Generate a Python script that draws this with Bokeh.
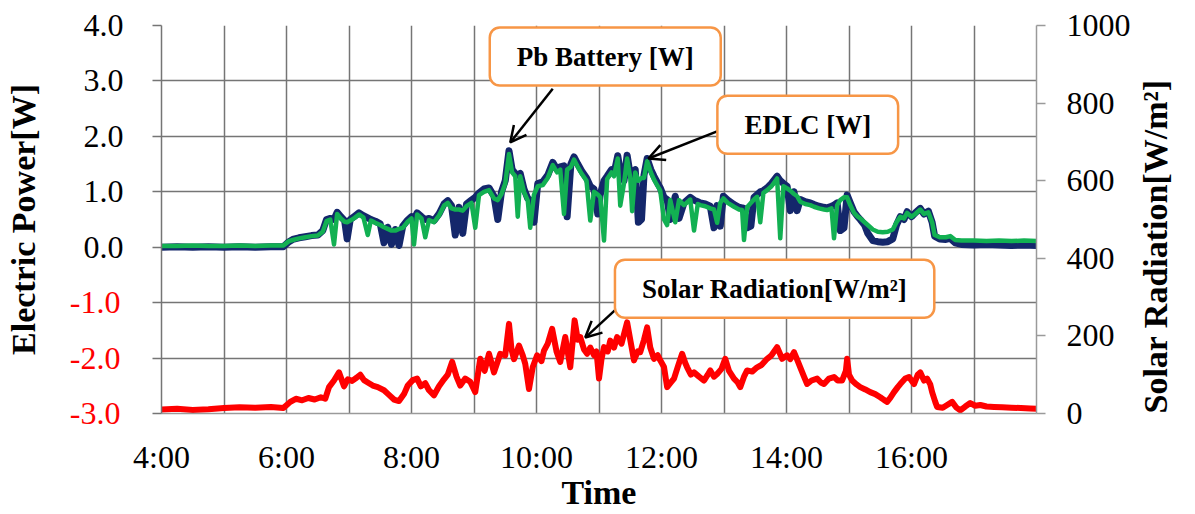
import math
from bokeh.plotting import figure
from bokeh.models import Range1d, LinearAxis, FixedTicker, Label, Arrow, OpenHead
from bokeh.embed import file_html
from bokeh.resources import INLINE

# ---------------- data ----------------
power_time = [4.00, 4.25, 4.50, 4.75, 5.00, 5.25, 5.50, 5.75, 5.95, 6.04, 6.10, 6.20, 6.30, 6.40, 6.50,
              6.58, 6.64, 6.70, 6.76, 6.81, 6.87, 6.93, 6.97, 7.02, 7.09, 7.16, 7.23, 7.30, 7.35, 7.42,
              7.50, 7.56, 7.62, 7.68, 7.74, 7.80, 7.86, 7.93, 8.00, 8.04, 8.09, 8.16, 8.22, 8.28, 8.36,
              8.44, 8.52, 8.58, 8.64, 8.70, 8.76, 8.82, 8.88, 8.96, 9.02, 9.08, 9.16, 9.24, 9.32, 9.38,
              9.44, 9.50, 9.56, 9.61, 9.66, 9.70, 9.74, 9.80, 9.86, 9.90, 9.96, 10.02, 10.10, 10.18, 10.26,
              10.33, 10.38, 10.44, 10.49, 10.55, 10.60, 10.66, 10.72, 10.80, 10.86, 10.92, 10.98, 11.02, 11.08, 11.13,
              11.20, 11.24, 11.30, 11.34, 11.40, 11.45, 11.50, 11.53, 11.58, 11.63, 11.68, 11.72, 11.77, 11.83, 11.88,
              11.94, 11.98, 12.04, 12.09, 12.14, 12.22, 12.28, 12.36, 12.46, 12.52, 12.58, 12.62, 12.70, 12.78, 12.84,
              12.89, 12.94, 12.99, 13.06, 13.16, 13.24, 13.29, 13.32, 13.37, 13.43, 13.48, 13.53, 13.58, 13.63, 13.69,
              13.76, 13.85, 13.90, 13.95, 14.01, 14.06, 14.12, 14.17, 14.22, 14.30, 14.38, 14.44, 14.52, 14.60, 14.65,
              14.72, 14.76, 14.81, 14.86, 14.92, 14.97, 15.02, 15.08, 15.14, 15.18, 15.25, 15.30, 15.38, 15.46, 15.54,
              15.62, 15.70, 15.76, 15.82, 15.88, 15.93, 16.00, 16.06, 16.14, 16.20, 16.27, 16.33, 16.37, 16.45, 16.55,
              16.62, 16.70, 16.80, 17.00, 17.20, 17.40, 17.60, 17.80, 18.00]
battery_w = [0.00, 0.01, 0.00, 0.01, 0.00, 0.01, 0.00, 0.01, 0.01, 0.10, 0.14, 0.17, 0.19, 0.21, 0.22,
             0.30, 0.50, 0.52, 0.50, 0.63, 0.55, 0.48, 0.15, 0.50, 0.56, 0.62, 0.57, 0.53, 0.50, 0.47,
             0.42, 0.08, 0.36, 0.05, 0.32, 0.03, 0.38, 0.48, 0.55, 0.50, 0.62, 0.55, 0.50, 0.52, 0.48,
             0.60, 0.78, 0.84, 0.75, 0.22, 0.72, 0.25, 0.78, 0.85, 0.90, 0.98, 1.05, 1.07, 0.92, 0.50,
             1.00, 1.20, 1.74, 1.40, 1.33, 1.30, 1.33, 1.05, 0.88, 0.85, 0.45, 1.15, 1.18, 1.30, 1.53,
             1.40, 1.45, 1.47, 0.55, 1.50, 1.63, 1.50, 1.38, 1.25, 1.10, 1.05, 0.60, 0.95, 1.20, 1.28,
             1.40, 1.33, 1.65, 1.36, 1.20, 1.66, 1.30, 1.35, 1.40, 0.45, 0.50, 1.30, 1.60, 1.40, 1.28,
             1.15, 1.07, 0.90, 0.86, 0.50, 0.92, 0.52, 0.80, 0.90, 0.85, 0.82, 0.80, 0.78, 0.74, 0.35,
             0.75, 0.38, 0.92, 0.85, 0.77, 0.72, 0.71, 0.70, 0.35, 0.38, 0.90, 0.95, 1.00, 1.02, 1.07,
             1.15, 1.28, 1.20, 1.15, 1.10, 0.66, 1.00, 0.66, 0.86, 0.82, 0.80, 0.77, 0.74, 0.72, 0.71,
             0.74, 0.76, 0.80, 0.30, 0.35, 0.94, 0.80, 0.64, 0.55, 0.50, 0.40, 0.25, 0.12, 0.10, 0.09,
             0.10, 0.15, 0.40, 0.55, 0.50, 0.64, 0.55, 0.62, 0.70, 0.60, 0.65, 0.45, 0.20, 0.15, 0.14,
             0.16, 0.08, 0.05, 0.04, 0.05, 0.04, 0.03, 0.04, 0.03]
edlc_w = [0.02, 0.02, 0.03, 0.02, 0.02, 0.03, 0.02, 0.03, 0.03, 0.11, 0.13, 0.16, 0.18, 0.20, 0.21,
          0.28, 0.47, 0.50, 0.05, 0.60, 0.52, 0.46, 0.45, 0.48, 0.53, 0.59, 0.54, 0.22, 0.48, 0.44,
          0.40, 0.36, 0.33, 0.30, 0.30, 0.33, 0.35, 0.45, 0.52, 0.05, 0.59, 0.52, 0.18, 0.49, 0.45,
          0.57, 0.75, 0.80, 0.70, 0.68, 0.68, 0.66, 0.74, 0.80, 0.35, 0.94, 1.00, 1.03, 0.88, 0.85,
          0.96, 1.15, 1.68, 1.35, 1.28, 0.55, 1.28, 1.00, 0.84, 0.35, 0.95, 1.10, 1.12, 1.25, 1.48,
          1.35, 1.40, 0.60, 1.40, 1.45, 1.58, 1.45, 1.33, 1.20, 0.48, 1.00, 0.95, 0.90, 0.12, 1.23,
          1.35, 1.28, 1.60, 0.75, 1.15, 1.60, 1.25, 0.65, 1.35, 1.20, 1.25, 1.25, 1.55, 1.35, 1.22,
          1.10, 1.02, 0.50, 0.40, 0.85, 0.45, 0.85, 0.76, 0.86, 0.30, 0.78, 0.76, 0.74, 0.70, 0.68,
          0.44, 0.80, 0.88, 0.80, 0.73, 0.68, 0.67, 0.13, 0.72, 0.80, 0.86, 0.91, 0.45, 0.98, 1.03,
          1.10, 1.24, 0.16, 1.10, 1.06, 1.02, 0.96, 0.92, 0.82, 0.78, 0.76, 0.73, 0.70, 0.68, 0.67,
          0.70, 0.16, 0.76, 0.85, 0.90, 0.90, 0.76, 0.62, 0.55, 0.52, 0.45, 0.40, 0.32, 0.28, 0.27,
          0.28, 0.32, 0.45, 0.55, 0.52, 0.62, 0.55, 0.60, 0.68, 0.60, 0.63, 0.45, 0.22, 0.18, 0.18,
          0.20, 0.13, 0.12, 0.12, 0.11, 0.12, 0.11, 0.12, 0.11]

solar_time = [4.00, 4.25, 4.50, 4.75, 5.00, 5.25, 5.50, 5.75, 5.95, 6.06, 6.15, 6.25, 6.35, 6.45, 6.55,
              6.62, 6.68, 6.76, 6.84, 6.92, 6.98, 7.05, 7.12, 7.18, 7.24, 7.30, 7.38, 7.46, 7.56, 7.64,
              7.72, 7.80, 7.88, 7.94, 8.02, 8.09, 8.15, 8.22, 8.28, 8.36, 8.44, 8.52, 8.58, 8.65, 8.72,
              8.78, 8.86, 8.94, 9.02, 9.10, 9.17, 9.24, 9.32, 9.42, 9.50, 9.56, 9.60, 9.64, 9.72, 9.78,
              9.82, 9.88, 9.94, 10.01, 10.08, 10.12, 10.18, 10.25, 10.32, 10.38, 10.46, 10.54, 10.61, 10.66, 10.70,
              10.76, 10.81, 10.86, 10.92, 10.96, 11.00, 11.04, 11.08, 11.14, 11.18, 11.24, 11.29, 11.36, 11.45, 11.50,
              11.56, 11.62, 11.66, 11.72, 11.77, 11.82, 11.88, 11.94, 11.98, 12.04, 12.09, 12.15, 12.20, 12.26, 12.33,
              12.38, 12.41, 12.47, 12.52, 12.60, 12.68, 12.74, 12.78, 12.84, 12.89, 12.96, 13.02, 13.08, 13.16, 13.22,
              13.26, 13.32, 13.37, 13.45, 13.53, 13.60, 13.69, 13.76, 13.85, 13.93, 14.01, 14.06, 14.12, 14.18, 14.22,
              14.28, 14.33, 14.40, 14.49, 14.55, 14.60, 14.68, 14.76, 14.82, 14.89, 14.95, 14.97, 15.00, 15.05, 15.12,
              15.18, 15.26, 15.34, 15.42, 15.50, 15.56, 15.61, 15.66, 15.72, 15.78, 15.82, 15.90, 15.96, 16.04, 16.10,
              16.14, 16.20, 16.25, 16.30, 16.33, 16.38, 16.41, 16.50, 16.57, 16.65, 16.72, 16.78, 16.86, 16.94, 17.02,
              17.10, 17.20, 17.32, 17.45, 17.60, 17.75, 17.90, 18.00]
solar_wm2 = [10, 12, 9, 11, 14, 16, 15, 17, 14, 30, 38, 34, 40, 36, 42,
             38, 68, 85, 106, 70, 88, 84, 92, 100, 86, 80, 72, 68, 60, 48,
             36, 32, 50, 72, 86, 90, 70, 78, 60, 47, 70, 88, 100, 133, 95,
             72, 90, 82, 55, 141, 110, 154, 106, 154, 150, 231, 165, 140, 175, 150,
             128, 63, 120, 150, 135, 162, 180, 218, 160, 133, 197, 119, 240, 190, 197,
             165, 154, 170, 150, 160, 90, 140, 171, 160, 188, 170, 197, 180, 235, 190,
             137, 160, 158, 190, 222, 170, 141, 150, 137, 120, 68, 80, 90, 120, 154,
             130, 119, 100, 106, 95, 85, 100, 111, 95, 102, 115, 141, 110, 90, 80,
             68, 95, 111, 108, 119, 125, 141, 150, 171, 141, 150, 140, 158, 135, 119,
             95, 76, 85, 90, 80, 76, 90, 94, 85, 85, 110, 141, 100, 85, 75,
             68, 62, 55, 50, 42, 35, 30, 40, 55, 68, 76, 90, 94, 76, 100,
             106, 85, 90, 75, 55, 30, 17, 15, 22, 30, 15, 8, 18, 27, 20,
             22, 18, 17, 16, 15, 14, 13, 12]

left_ticks = [-3, -2, -1, 0, 1, 2, 3, 4]
left_labels = ["-3.0", "-2.0", "-1.0", "0.0", "1.0", "2.0", "3.0", "4.0"]
right_ticks = [0, 200, 400, 600, 800, 1000]
hour_grid = [4, 5, 6, 7, 8, 9, 10, 11, 12, 13, 14, 15, 16, 17, 18]
hour_ticks = [4, 6, 8, 10, 12, 14, 16]
hour_labels = ["4:00", "6:00", "8:00", "10:00", "12:00", "14:00", "16:00"]

# ---------------- styles ----------------
SERIF = "Liberation Serif"
NAVY = "#14276b"
GREEN = "#12b052"
RED = "#ff0000"
GRID = "#757575"
ORANGE = "#f79646"

p = figure(width=1195, height=514, output_backend="svg", toolbar_location=None,
           x_range=Range1d(4, 18), y_range=Range1d(-3, 4),
           min_border_left=161, min_border_right=158, min_border_top=25, min_border_bottom=101)
p.extra_y_ranges = {"solar": Range1d(0, 1000)}
p.outline_line_color = None
p.background_fill_color = "white"
p.border_fill_color = "white"

# grid
p.xgrid.ticker = FixedTicker(ticks=hour_grid)
p.ygrid.ticker = FixedTicker(ticks=left_ticks)
for g in (p.xgrid, p.ygrid):
    g.grid_line_color = GRID
    g.grid_line_width = 1.5


def style_ticks(ax, tick_out, line_color):
    ax.major_tick_out = tick_out
    ax.major_tick_in = 0
    ax.minor_tick_out = 0
    ax.minor_tick_in = 0
    ax.major_tick_line_color = line_color
    ax.major_tick_line_width = 1.5
    ax.major_label_text_font = SERIF
    ax.major_label_text_font_size = "32px"
    ax.major_label_text_color = "black"
    ax.axis_label_text_font = SERIF
    ax.axis_label_text_font_style = "bold"
    ax.axis_label_text_font_size = "34px"
    ax.axis_label_text_color = "black"


# x axis
xa = p.xaxis[0]
xa.ticker = FixedTicker(ticks=hour_ticks)
xa.major_label_overrides = {t: s for t, s in zip(hour_ticks, hour_labels)}
style_ticks(xa, 0, None)
xa.axis_line_color = "#9a9a9a"
xa.axis_line_width = 1.5
xa.major_label_standoff = 25
xa.axis_label = "Time"
xa.axis_label_standoff = -4

# left axis (black labels, non-negative values)
ya = p.yaxis[0]
ya.ticker = FixedTicker(ticks=left_ticks)
ya.major_label_overrides = {t: (s if t >= 0 else "") for t, s in zip(left_ticks, left_labels)}
style_ticks(ya, 9, GRID)
ya.axis_line_color = GRID
ya.axis_line_width = 1.5
ya.major_label_standoff = 29

# second left axis carrying the red negative labels and the title
neg_ticks = [t for t in left_ticks if t < 0]
ya2 = LinearAxis(ticker=FixedTicker(ticks=neg_ticks))
ya2.major_label_overrides = {t: s for t, s in zip(left_ticks, left_labels) if t < 0}
style_ticks(ya2, 0, None)
ya2.axis_line_color = None
ya2.major_label_standoff = -40
ya2.major_label_text_color = RED
ya2.axis_label = "Electric Power[W]"
ya2.axis_label_standoff = 25
p.add_layout(ya2, "left")

# right axis (ticks and labels)
ra = LinearAxis(y_range_name="solar", ticker=FixedTicker(ticks=right_ticks))
style_ticks(ra, 9, "#9a9a9a")
ra.axis_line_color = "#9a9a9a"
ra.axis_line_width = 1.5
ra.major_label_standoff = 21
p.add_layout(ra, "right")

# outer right axis only carrying the title, reading bottom to top
ra2 = LinearAxis(y_range_name="solar", ticker=FixedTicker(ticks=[]), bounds=(55, 1000))
style_ticks(ra2, 0, None)
ra2.axis_line_color = None
ra2.major_label_standoff = 0
ra2.axis_label = "Solar Radiation[W/m²]"
ra2.axis_label_orientation = math.pi / 2
ra2.axis_label_align = "start"
ra2.axis_label_standoff = 22
p.add_layout(ra2, "right")

# series
p.line(solar_time, solar_wm2, y_range_name="solar", line_color=RED, line_width=6, line_join="round")
p.line(power_time, battery_w, line_color=NAVY, line_width=7, line_join="round")
p.line(power_time, edlc_w, line_color=GREEN, line_width=4.5, line_join="round")


# callouts
def callout(x, y, text):
    p.add_layout(Label(x=x, y=y, text=text, text_align="center", text_baseline="middle",
                       text_font=SERIF, text_font_style="bold", text_font_size="27px", text_color="black",
                       background_fill_color="white", border_line_color=ORANGE, border_line_width=2.5,
                       border_radius=10, padding=dict(left=27, right=27, top=14, bottom=14)))


def pointer(x0, y0, x1, y1):
    p.add_layout(Arrow(end=OpenHead(size=16, line_width=2.5, line_color="black"),
                       x_start=x0, y_start=y0, x_end=x1, y_end=y1,
                       line_color="black", line_width=2.5))


pointer(10.26, 2.86, 9.58, 1.89)
pointer(12.91, 2.10, 11.79, 1.60)
pointer(11.34, -1.05, 10.78, -1.63)
callout(11.10, 3.44, "Pb Battery [W]")
callout(14.34, 2.21, "EDLC [W]")
callout(13.81, -0.75, "Solar Radiation[W/m²]")

open("out.html", "w").write(file_html(p, INLINE))
